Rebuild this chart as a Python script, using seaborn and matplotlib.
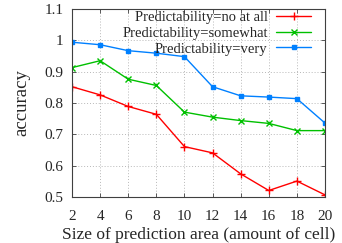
import matplotlib
matplotlib.use("Agg")
import matplotlib.pyplot as plt
import seaborn as sns
import pandas as pd

sizes = [2, 4, 6, 8, 10, 12, 14, 16, 18, 20]
no_at_all = [0.852, 0.826, 0.789, 0.764, 0.661, 0.641, 0.574, 0.521, 0.551, 0.507]
somewhat = [0.913, 0.935, 0.876, 0.856, 0.771, 0.755, 0.744, 0.735, 0.712, 0.712]
very = [0.994, 0.986, 0.967, 0.959, 0.948, 0.852, 0.823, 0.819, 0.814, 0.736]
series_names = ["Predictability=no at all", "Predictability=somewhat", "Predictability=very"]
xticks = [2, 4, 6, 8, 10, 12, 14, 16, 18, 20]
yticks = [0.5, 0.6, 0.7, 0.8, 0.9, 1.0, 1.1]
ytick_labels = ["0.5", "0.6", "0.7", "0.8", "0.9", "1", "1.1"]

sns.set_style("white")
plt.rcParams["font.family"] = ["Liberation Serif", "DejaVu Serif"]

fig = plt.figure(figsize=(3.42, 2.43), dpi=100)
ax = fig.add_axes([0.2105, 0.189, 0.7398, 0.774])

colors = ["#ff0000", "#00c000", "#0080ff"]
marks = ["+", "x", "s"]
msizes = [6, 4.5, 3.5]
for name, vals, c, m, ms in zip(series_names, [no_at_all, somewhat, very], colors, marks, msizes):
    df = pd.DataFrame({"size": sizes, "accuracy": vals})
    sns.lineplot(data=df, x="size", y="accuracy", color=c, marker=m, markersize=ms,
                 markeredgewidth=1.0, markeredgecolor=c, linewidth=1.0, label=name, ax=ax)

ax.set_xlim(2, 20)
ax.set_ylim(0.5, 1.1)
ax.set_xticks(xticks)
ax.set_yticks(yticks)
ax.set_yticklabels(ytick_labels)
ax.grid(True, color="#b8b8b8", linestyle=(0, (1, 2)), linewidth=0.7)
for s in ax.spines.values():
    s.set_color("#404040")
    s.set_linewidth(0.8)
ax.tick_params(direction="in", length=3, width=0.6, top=True, right=True,
               bottom=True, left=True, labelsize=11, color="#404040")
ax.tick_params(axis="x", pad=9)
ax.tick_params(axis="y", pad=6)
ax.set_xlabel("Size of prediction area (amount of cell)", fontsize=12.5, labelpad=3)
ax.set_ylabel("accuracy", fontsize=13.5, labelpad=10)

leg = ax.legend(loc="upper right", frameon=False, markerfirst=False, fontsize=10.5,
                handlelength=2.4, handletextpad=0.6, labelspacing=0.18, borderaxespad=0.1,
                bbox_to_anchor=(0.975, 1.03))

fig.savefig("out.png", dpi=100)
